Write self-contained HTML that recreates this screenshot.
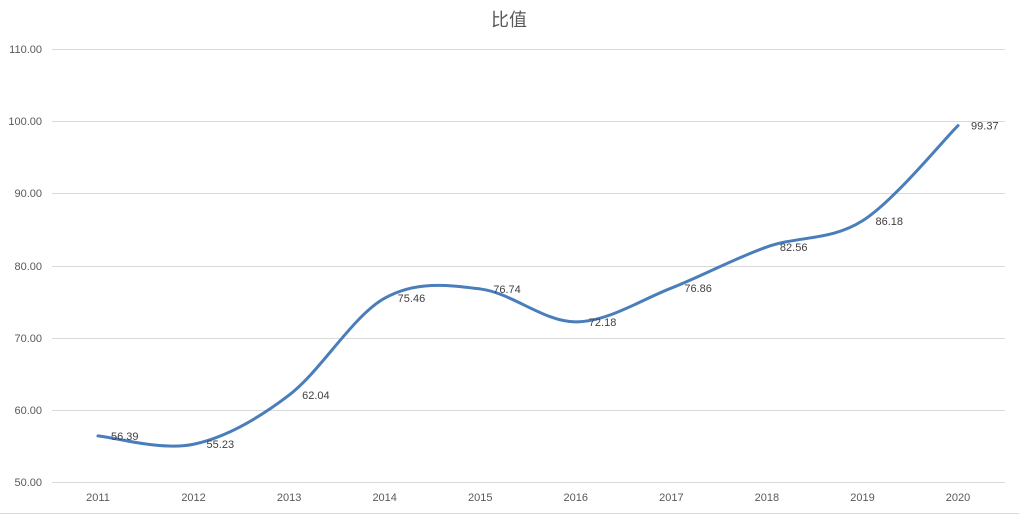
<!DOCTYPE html>
<html><head><meta charset="utf-8"><style>
body{margin:0;background:#fff;width:1019px;height:515px;overflow:hidden}
text{font-family:"Liberation Sans","Noto Sans CJK SC",sans-serif}
</style></head><body>
<svg width="1019" height="515" xmlns="http://www.w3.org/2000/svg">
<text x="509" y="26" font-size="18" fill="#595959" text-anchor="middle">比值</text>
<g stroke="#d9d9d9" stroke-width="1">
<line x1="52" x2="1005" y1="49.5" y2="49.5"/>
<line x1="52" x2="1005" y1="121.5" y2="121.5"/>
<line x1="52" x2="1005" y1="193.5" y2="193.5"/>
<line x1="52" x2="1005" y1="266.5" y2="266.5"/>
<line x1="52" x2="1005" y1="338.5" y2="338.5"/>
<line x1="52" x2="1005" y1="410.5" y2="410.5"/>
<line x1="52" x2="1005" y1="482.5" y2="482.5"/>
<line x1="0" x2="1019" y1="513.5" y2="513.5"/>
</g>
<g font-size="11" fill="#595959" text-anchor="end">
<text x="42" y="53">110.00</text><text x="42" y="125">100.00</text><text x="42" y="197">90.00</text>
<text x="42" y="270">80.00</text><text x="42" y="342">70.00</text><text x="42" y="414">60.00</text><text x="42" y="486">50.00</text>
</g>
<g font-size="11" fill="#595959" text-anchor="middle" id="xl"></g>
<path id="ln" fill="none" stroke="#4a7ebb" stroke-width="3" stroke-linecap="round"/>
<g font-size="11" fill="#404040" id="dl"></g>
</svg>
<script>
var v=[56.39,55.23,62.04,75.46,76.74,72.18,76.86,82.56,86.18,99.37];
var P=v.map(function(d,i){return[98+95.56*i,482-(d-50)*7.22]});
var s="M"+P[0][0]+","+P[0][1];
for(var i=0;i<P.length-1;i++){var p0=P[i-1]||P[i],p1=P[i],p2=P[i+1],p3=P[i+2]||p2,t=6;
s+=" C"+(p1[0]+(p2[0]-p0[0])/t)+","+(p1[1]+(p2[1]-p0[1])/t)+" "+(p2[0]-(p3[0]-p1[0])/t)+","+(p2[1]-(p3[1]-p1[1])/t)+" "+p2[0]+","+p2[1];}
document.getElementById("ln").setAttribute("d",s);
var ns="http://www.w3.org/2000/svg",xl=document.getElementById("xl"),dl=document.getElementById("dl");
P.forEach(function(p,i){var t=document.createElementNS(ns,"text");t.setAttribute("x",p[0]);t.setAttribute("y",501);t.textContent=2011+i;xl.appendChild(t);
var u=document.createElementNS(ns,"text");u.setAttribute("x",p[0]+13);u.setAttribute("y",p[1]+4);u.textContent=v[i].toFixed(2);dl.appendChild(u);});
</script>
</body></html>
